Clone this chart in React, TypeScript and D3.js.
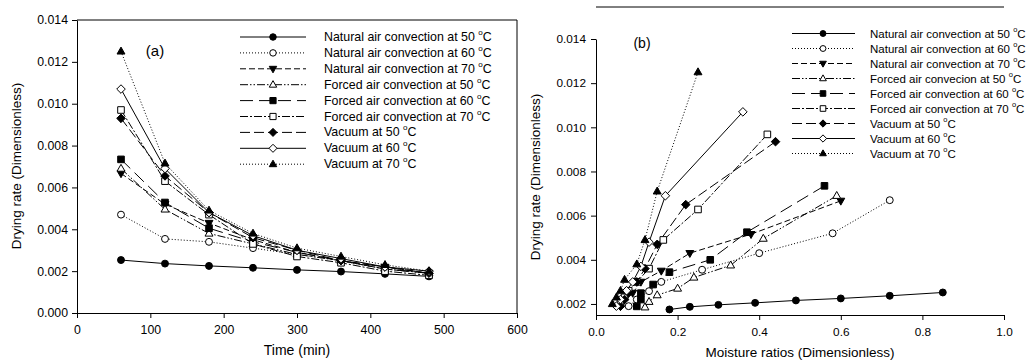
// Drying rate vs time (a) and vs moisture ratio (b), redrawn with D3
import { useEffect, useRef } from 'react';
import * as d3 from 'd3';

// ---- data ----
const TIME = [60, 120, 180, 240, 300, 360, 420, 480];

// panel (a): drying rate at each time
const rateA_nat50 = [0.00253, 0.00236, 0.00225, 0.00216, 0.00206, 0.00198, 0.00187, 0.00175];
const rateA_nat60 = [0.0047, 0.00354, 0.0034, 0.0031, 0.0028, 0.0025, 0.0021, 0.0019];
const rateA_nat70 = [0.00667, 0.0052, 0.0043, 0.0035, 0.0029, 0.0025, 0.0022, 0.0019];
const rateA_for50 = [0.0069, 0.00495, 0.0038, 0.0033, 0.0028, 0.0025, 0.0021, 0.0019];
const rateA_for60 = [0.00734, 0.00528, 0.00405, 0.0034, 0.0029, 0.0025, 0.0021, 0.0019];
const rateA_for70 = [0.0097, 0.0063, 0.0047, 0.0033, 0.0027, 0.0024, 0.002, 0.0018];
const rateA_vac50 = [0.0093, 0.00655, 0.0048, 0.0036, 0.003, 0.0025, 0.0022, 0.0019];
const rateA_vac60 = [0.0107, 0.0069, 0.0048, 0.0037, 0.003, 0.0026, 0.0022, 0.002];
const rateA_vac70 = [0.0125, 0.00715, 0.0049, 0.0038, 0.0031, 0.0027, 0.0023, 0.002];

// panel (b): moisture ratio and drying rate
const mrB_nat50 = [0.85, 0.72, 0.6, 0.49, 0.39, 0.3, 0.23, 0.18];
const rateB_nat50 = [0.00252, 0.00237, 0.00225, 0.00216, 0.00205, 0.00196, 0.00187, 0.00175];
const mrB_nat60 = [0.72, 0.58, 0.4, 0.26, 0.16, 0.13, 0.1, 0.08];
const rateB_nat60 = [0.0067, 0.0052, 0.0043, 0.00355, 0.003, 0.00258, 0.0022, 0.0019];
const mrB_nat70 = [0.6, 0.38, 0.23, 0.16, 0.11, 0.09, 0.07, 0.06];
const rateB_nat70 = [0.00667, 0.00516, 0.0043, 0.0035, 0.003, 0.0025, 0.0022, 0.0019];
const mrB_for50 = [0.59, 0.41, 0.33, 0.24, 0.2, 0.15, 0.13, 0.12];
const rateB_for50 = [0.0069, 0.00496, 0.00375, 0.0032, 0.0027, 0.0024, 0.0021, 0.00185];
const mrB_for60 = [0.56, 0.37, 0.28, 0.18, 0.14, 0.11, 0.11, 0.1];
const rateB_for60 = [0.00735, 0.00525, 0.004, 0.00344, 0.00288, 0.00249, 0.0022, 0.00189];
const mrB_for70 = [0.42, 0.25, 0.165, 0.13, 0.1, 0.08, 0.07, 0.06];
const rateB_for70 = [0.00968, 0.00628, 0.0049, 0.0036, 0.003, 0.0026, 0.0023, 0.002];
const mrB_vac50 = [0.44, 0.22, 0.15, 0.12, 0.1, 0.08, 0.07, 0.06];
const rateB_vac50 = [0.00935, 0.0065, 0.0047, 0.0036, 0.003, 0.0025, 0.0022, 0.0019];
const mrB_vac60 = [0.36, 0.17, 0.13, 0.11, 0.09, 0.075, 0.06, 0.05];
const rateB_vac60 = [0.0107, 0.0069, 0.0048, 0.0037, 0.003, 0.0026, 0.0022, 0.0019];
const mrB_vac70 = [0.25, 0.15, 0.12, 0.1, 0.07, 0.06, 0.05, 0.04];
const rateB_vac70 = [0.0125, 0.0071, 0.0049, 0.0038, 0.0031, 0.0026, 0.0023, 0.002];

const TICKS_A_X = [0, 100, 200, 300, 400, 500, 600];
const TICKS_A_Y = [0, 0.002, 0.004, 0.006, 0.008, 0.01, 0.012, 0.014];
const TICKS_B_X = [0, 0.2, 0.4, 0.6, 0.8, 1.0];
const TICKS_B_Y = [0.002, 0.004, 0.006, 0.008, 0.01, 0.012, 0.014];

const LABELS_A = [
  'Natural air convection at 50 ', 'Natural air convection at 60 ', 'Natural air convection at 70 ',
  'Forced air convection at 50 ', 'Forced air convection at 60 ', 'Forced air convection at 70 ',
  'Vacuum at 50 ', 'Vacuum at 60 ', 'Vacuum at 70 '
];
const LABELS_B = [
  'Natural air convection at 50 ', 'Natural air convection at 60 ', 'Natural air convection at 70 ',
  'Forced air convecion at 50 ', 'Forced air convection at 60 ', 'Forced air convection at 70 ',
  'Vacuum at 50 ', 'Vacuum at 60 ', 'Vacuum at 70 '
];

type Marker = 'circle' | 'square' | 'triUp' | 'triDown' | 'diamond';
// line style + marker for each series, same order as the labels
const STYLES: { dash: string | null; marker: Marker; filled: boolean }[] = [
  { dash: null, marker: 'circle', filled: true },
  { dash: '1,2', marker: 'circle', filled: false },
  { dash: '6,3', marker: 'triDown', filled: true },
  { dash: '8,2,1.5,2,1.5,2', marker: 'triUp', filled: false },
  { dash: '13,6', marker: 'square', filled: true },
  { dash: '8,2,2,2', marker: 'square', filled: false },
  { dash: '10,4', marker: 'diamond', filled: true },
  { dash: null, marker: 'diamond', filled: false },
  { dash: '1,2', marker: 'triUp', filled: true }
];

const RATES_A = [rateA_nat50, rateA_nat60, rateA_nat70, rateA_for50, rateA_for60, rateA_for70, rateA_vac50, rateA_vac60, rateA_vac70];
const MR_B = [mrB_nat50, mrB_nat60, mrB_nat70, mrB_for50, mrB_for60, mrB_for70, mrB_vac50, mrB_vac60, mrB_vac70];
const RATES_B = [rateB_nat50, rateB_nat60, rateB_nat70, rateB_for50, rateB_for60, rateB_for70, rateB_vac50, rateB_vac60, rateB_vac70];

const FONT = '"Liberation Sans", Arial, sans-serif';

function markerPath(kind: Marker, x: number, y: number, s: number) {
  switch (kind) {
    case 'square':
      return `M${x - s},${y - s}h${2 * s}v${2 * s}h${-2 * s}Z`;
    case 'triUp':
      return `M${x},${y - s * 1.3}L${x + s * 1.2},${y + s * 0.8}L${x - s * 1.2},${y + s * 0.8}Z`;
    case 'triDown':
      return `M${x},${y + s * 1.3}L${x + s * 1.2},${y - s * 0.8}L${x - s * 1.2},${y - s * 0.8}Z`;
    case 'diamond':
      return `M${x},${y - s * 1.3}L${x + s * 1.3},${y}L${x},${y + s * 1.3}L${x - s * 1.3},${y}Z`;
    default:
      return d3.arc()({ innerRadius: 0, outerRadius: s * 1.05, startAngle: 0, endAngle: Math.PI * 2 }) as string;
  }
}

function drawMarker(g: any, kind: Marker, filled: boolean, x: number, y: number, s: number) {
  const p = g.append('path')
    .attr('fill', filled ? '#000' : '#fff')
    .attr('stroke', '#000')
    .attr('stroke-width', 1);
  if (kind === 'circle') {
    p.attr('d', markerPath(kind, 0, 0, s)).attr('transform', `translate(${x},${y})`);
  } else {
    p.attr('d', markerPath(kind, x, y, s));
  }
}

function degreeText(sel: any, label: string, x: number, y: number, size: number) {
  const t = sel.append('text')
    .attr('x', x)
    .attr('y', y)
    .attr('dominant-baseline', 'central')
    .attr('font-size', size)
    .attr('font-family', FONT)
    .attr('fill', '#000');
  t.append('tspan').text(label);
  t.append('tspan').attr('dy', -5).attr('font-size', size * 0.65).text('o');
  t.append('tspan').attr('dy', 5).text('C');
}

const App = () => {
  const svgRef = useRef<SVGSVGElement>(null);

  useEffect(() => {
    if (!svgRef.current) return;
    const svg = d3.select(svgRef.current);
    svg.selectAll('*').remove();

    // ---------- panel (a) ----------
    const xA = d3.scaleLinear().domain([0, 600]).range([77, 517]);
    const yA = d3.scaleLinear().domain([0, 0.014]).range([313, 20]);
    const gA = svg.append('g');

    // frame top + right
    gA.append('path')
      .attr('d', `M${xA(0)},${yA(0.014)}H${xA(600)}V${yA(0)}`)
      .attr('fill', 'none').attr('stroke', '#000').attr('stroke-width', 1);

    const axA_x = gA.append('g')
      .attr('transform', `translate(0,${yA(0)})`)
      .call(d3.axisBottom(xA).tickValues(TICKS_A_X).tickFormat(d3.format('d')).tickSize(5).tickSizeOuter(0).tickPadding(7));
    const axA_y = gA.append('g')
      .attr('transform', `translate(${xA(0)},0)`)
      .call(d3.axisLeft(yA).tickValues(TICKS_A_Y).tickFormat(d3.format('.3f')).tickSize(5).tickSizeOuter(0).tickPadding(4));
    [axA_x, axA_y].forEach(a => {
      a.selectAll('text').attr('font-size', 12.3).attr('font-family', FONT).attr('fill', '#000');
      a.select('.domain').attr('stroke', '#000');
      a.selectAll('line').attr('stroke', '#000');
    });

    RATES_A.forEach((rates, i) => {
      const st = STYLES[i];
      const line = d3.line<number>().x((_, j) => xA(TIME[j])).y(d => yA(d));
      gA.append('path')
        .datum(rates)
        .attr('fill', 'none')
        .attr('stroke', '#000')
        .attr('stroke-width', 1)
        .attr('stroke-dasharray', st.dash)
        .attr('d', line);
    });
    RATES_A.forEach((rates, i) => {
      const st = STYLES[i];
      rates.forEach((r, j) => drawMarker(gA, st.marker, st.filled, xA(TIME[j]), yA(r), 3.3));
    });

    // legend (a)
    LABELS_A.forEach((lab, i) => {
      const st = STYLES[i];
      const y = 37 + i * 15.9;
      gA.append('line')
        .attr('x1', 240).attr('x2', 306).attr('y1', y).attr('y2', y)
        .attr('stroke', '#000').attr('stroke-width', 1)
        .attr('stroke-dasharray', st.dash);
      drawMarker(gA, st.marker, st.filled, 273, y, 3.1);
      degreeText(gA, lab, 324, y, 12.4);
    });

    gA.append('text')
      .attr('x', 155).attr('y', 50)
      .attr('text-anchor', 'middle').attr('dominant-baseline', 'central')
      .attr('font-size', 15).attr('font-family', FONT)
      .text('(a)');

    gA.append('text')
      .attr('x', 297).attr('y', 350)
      .attr('text-anchor', 'middle').attr('dominant-baseline', 'central')
      .attr('font-size', 14).attr('font-family', FONT)
      .text('Time (min)');

    gA.append('text')
      .attr('transform', `translate(16,166) rotate(-90)`)
      .attr('text-anchor', 'middle').attr('dominant-baseline', 'central')
      .attr('font-size', 13.5).attr('font-family', FONT)
      .text('Drying rate (Dimensionless)');

    // ---------- panel (b) ----------
    const xB = d3.scaleLinear().domain([0, 1]).range([596, 1004]);
    const yB = d3.scaleLinear().domain([0.0015, 0.014]).range([315, 39]);
    const gB = svg.append('g');

    gB.append('line')
      .attr('x1', xB(0)).attr('x2', xB(1)).attr('y1', 7).attr('y2', 7)
      .attr('stroke', '#000').attr('stroke-width', 1);

    const axB_x = gB.append('g')
      .attr('transform', `translate(0,${yB(0.0015)})`)
      .call(d3.axisBottom(xB).tickValues(TICKS_B_X).tickFormat(d3.format('.1f')).tickSize(5).tickSizeOuter(0).tickPadding(8));
    const axB_y = gB.append('g')
      .attr('transform', `translate(${xB(0)},0)`)
      .call(d3.axisLeft(yB).tickValues(TICKS_B_Y).tickFormat(d3.format('.3f')).tickSize(5).tickSizeOuter(0).tickPadding(5));
    [axB_x, axB_y].forEach(a => {
      a.selectAll('text').attr('font-size', 11.8).attr('font-family', FONT).attr('fill', '#000');
      a.select('.domain').attr('stroke', '#000');
      a.selectAll('line').attr('stroke', '#000');
    });

    RATES_B.forEach((rates, i) => {
      const st = STYLES[i];
      const mr = MR_B[i];
      const line = d3.line<number>().x((_, j) => xB(mr[j])).y(d => yB(d));
      gB.append('path')
        .datum(rates)
        .attr('fill', 'none')
        .attr('stroke', '#000')
        .attr('stroke-width', 1)
        .attr('stroke-dasharray', st.dash)
        .attr('d', line);
    });
    RATES_B.forEach((rates, i) => {
      const st = STYLES[i];
      const mr = MR_B[i];
      rates.forEach((r, j) => drawMarker(gB, st.marker, st.filled, xB(mr[j]), yB(r), 3.3));
    });

    // legend (b)
    LABELS_B.forEach((lab, i) => {
      const st = STYLES[i];
      const y = 33.5 + i * 15;
      gB.append('line')
        .attr('x1', 792).attr('x2', 855).attr('y1', y).attr('y2', y)
        .attr('stroke', '#000').attr('stroke-width', 1)
        .attr('stroke-dasharray', st.dash);
      drawMarker(gB, st.marker, st.filled, 823, y, 2.8);
      degreeText(gB, lab, 870, y, 11.5);
    });

    gB.append('text')
      .attr('x', 642).attr('y', 43)
      .attr('text-anchor', 'middle').attr('dominant-baseline', 'central')
      .attr('font-size', 14).attr('font-family', FONT)
      .text('(b)');

    gB.append('text')
      .attr('x', 800).attr('y', 352)
      .attr('text-anchor', 'middle').attr('dominant-baseline', 'central')
      .attr('font-size', 13.5).attr('font-family', FONT)
      .text('Moisture ratios (Dimensionless)');

    gB.append('text')
      .attr('transform', `translate(535,177) rotate(-90)`)
      .attr('text-anchor', 'middle').attr('dominant-baseline', 'central')
      .attr('font-size', 13.5).attr('font-family', FONT)
      .text('Drying rate (Dimensionless)');
  }, []);

  return (
    <div style={{ position: 'absolute', left: 0, top: 0, background: '#fff' }}>
      <svg ref={svgRef} width={1028} height={362} style={{ display: 'block' }} />
    </div>
  );
};

export default App;
